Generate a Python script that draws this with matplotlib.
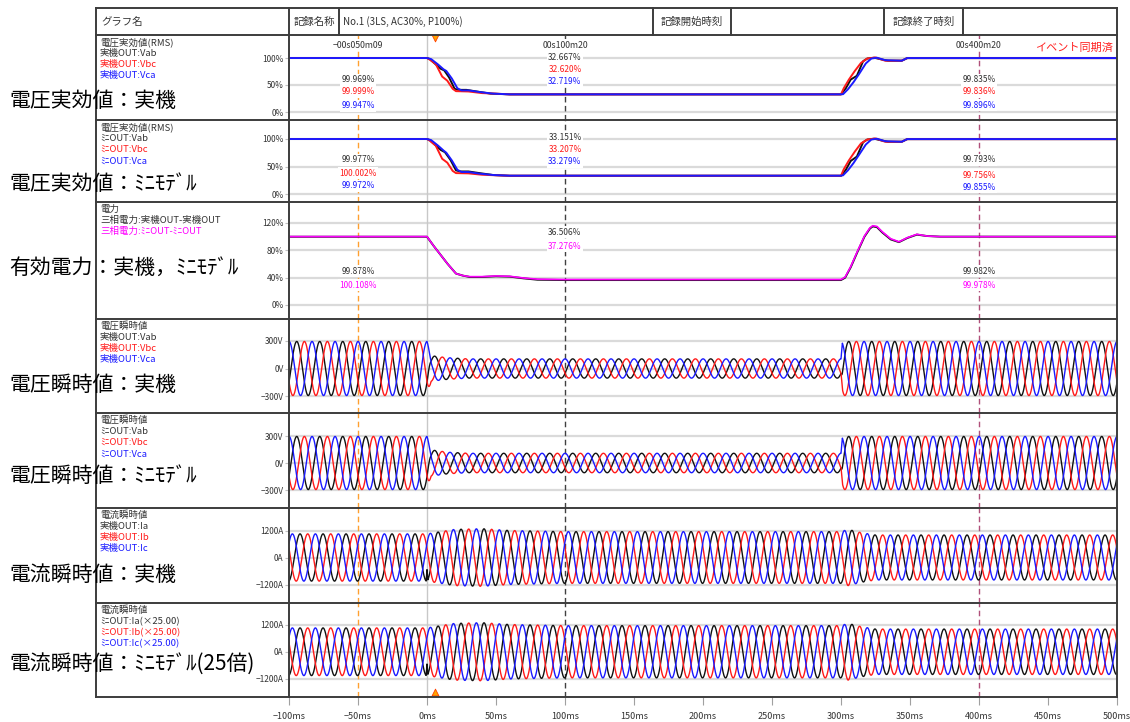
import numpy as np
import matplotlib
matplotlib.use("Agg")
import matplotlib.pyplot as plt
from matplotlib.lines import Line2D
from matplotlib.transforms import blended_transform_factory

plt.rcParams['font.family'] = ['Noto Sans CJK JP', 'DejaVu Sans']

# ---- data ---------------------------------------------------------------

# time window (ms) and grid frequency
t_start, t_end = -100, 500
freq = 60.0

# cursors
cursor_t = [-50, 100, 400]
cursor_names = ['\u221200s050m09', '00s100m20', '00s400m20']
event_t = 6

# voltage RMS, real machine (%)
rms_jk_ab_t = [-100, 0, 2, 6, 10, 12.5, 16, 20, 22.5, 28.5, 36, 46, 60, 300, 303.5, 307, 311.5, 316, 319, 324, 330, 334, 344, 348, 500]
rms_jk_ab = [99.969, 99.969, 98, 89, 80, 77, 64, 43, 41, 41, 38, 34, 32.667, 32.667, 44, 60, 67, 94, 99, 100.5, 97, 95, 95, 99.835, 99.835]
rms_jk_bc_t = [-100, 0, 2, 6.3, 11, 14.7, 18.6, 21, 30, 40, 50, 60, 300, 302, 305.7, 310, 314.5, 319, 325, 332, 344, 348, 500]
rms_jk_bc = [99.999, 99.999, 97, 89, 65.6, 58, 43, 38.6, 38, 35, 34, 32.620, 32.620, 44, 60, 76, 91, 99, 101, 95, 95, 99.836, 99.836]
rms_jk_ca_t = [-100, 0, 3, 8, 12, 14, 18, 22, 25, 30, 38, 48, 60, 300, 301.5, 305, 309, 313, 318, 322, 326, 332, 344, 348, 500]
rms_jk_ca = [99.947, 99.947, 98, 88, 79, 76, 62, 44, 40, 40, 37, 34, 32.719, 32.719, 33, 42, 55, 70, 90, 99, 100.5, 96, 95, 99.896, 99.896]

# voltage RMS, mini model (%)
rms_mn_ab_t = [-100, 0, 2, 6, 10, 13, 17, 21, 24, 30, 38, 48, 60, 300, 303.5, 307, 311.5, 316, 319, 324, 330, 334, 344, 348, 500]
rms_mn_ab = [99.977, 99.977, 98, 89, 80, 76, 62, 43, 41, 41, 38, 34.5, 33.151, 33.151, 44, 60, 68, 94, 99, 100.5, 97, 95, 95, 99.793, 99.793]
rms_mn_bc_t = [-100, 0, 2, 6.3, 11, 14.7, 18.6, 21, 30, 40, 50, 60, 300, 302, 305.7, 310, 314.5, 319, 325, 332, 344, 348, 500]
rms_mn_bc = [100.002, 100.002, 97, 88, 64, 57, 42, 38, 37.5, 35, 34, 33.207, 33.207, 45, 61, 77, 92, 99, 101, 95, 95, 99.756, 99.756]
rms_mn_ca_t = [-100, 0, 3, 8, 12, 14, 18, 22, 25, 30, 38, 48, 60, 300, 301.5, 305, 309, 313, 318, 322, 326, 332, 344, 348, 500]
rms_mn_ca = [99.972, 99.972, 98, 88, 79, 75, 61, 44, 40, 40, 37, 34.5, 33.279, 33.279, 34, 43, 56, 71, 90, 99, 100.5, 96, 95, 99.855, 99.855]

# three-phase active power (%)
pw_jk_t = [-100, 0, 5, 10, 15, 21, 26, 31, 40, 50, 60, 70, 80, 100, 300, 303, 307, 312, 317, 321, 323, 326, 330, 336, 342, 348, 355, 362, 372, 500]
pw_jk = [99.878, 99.878, 86, 73, 60, 46, 43, 41, 41, 42, 41.5, 39, 37, 36.506, 36.506, 40, 55, 78, 100, 112, 115, 114, 106, 96, 92, 98, 103, 101, 100, 99.982]
pw_mn_t = [-100, 0, 5, 10, 15, 21, 26, 31, 40, 50, 60, 70, 80, 100, 300, 303, 307, 312, 317, 321, 323, 326, 330, 336, 342, 348, 355, 362, 372, 500]
pw_mn = [100.108, 100.108, 86, 73, 60, 46, 43, 41.5, 41.5, 42.5, 42, 39.5, 37.8, 37.276, 37.276, 41, 56, 79, 101, 113, 116, 115, 107, 97, 92.5, 98.5, 103.5, 101, 100, 99.978]

# instantaneous voltage envelope (V peak) and Vab peak time (ms)
vi_jk_env_t = [-100, 0, 1, 3, 8, 15, 30, 300, 301, 500]
vi_jk_env = [295, 295, 250, 140, 130, 118, 105, 105, 295, 295]
vi_mn_env_t = [-100, 0, 1, 3, 8, 15, 30, 300, 301, 500]
vi_mn_env = [295, 295, 250, 145, 135, 120, 108, 108, 295, 295]
vi_peak_t = -94.4

# instantaneous current envelope (A peak) and Ia peak time (ms)
ii_jk_env_t = [-100, 0, 10, 20, 40, 60, 100, 300, 305, 315, 325, 500]
ii_jk_env = [1050, 1050, 1150, 1250, 1280, 1200, 1150, 1150, 1250, 1100, 1000, 1000]
ii_mn_env_t = [-100, 0, 10, 20, 40, 60, 100, 300, 305, 315, 325, 500]
ii_mn_env = [1050, 1050, 1150, 1250, 1280, 1200, 1150, 1150, 1250, 1100, 1000, 1000]
ii_peak_t = -92.0
# switching spike on Ia at the event
ia_spike_t = [-0.6, 0.0, 0.6]
ia_spike = [0, 500, 0]

# ---- layout (pixels) ----------------------------------------------------

W, H = 1130, 722
X_LEFT, X_AX, X_RIGHT = 96, 289, 1117
Y_HEAD = 8
panel_edges = [35, 120, 202, 319, 413, 508, 603, 697]

fig = plt.figure(figsize=(W / 100, H / 100), dpi=100)


def fx(x):
    return x / W


def fy(y):
    return 1 - y / H


def hline(y, x0, x1, **kw):
    fig.add_artist(Line2D([fx(x0), fx(x1)], [fy(y), fy(y)], transform=fig.transFigure, zorder=5, **kw))


def vline(x, y0, y1, **kw):
    fig.add_artist(Line2D([fx(x), fx(x)], [fy(y0), fy(y1)], transform=fig.transFigure, zorder=5, **kw))


cursor_colors = ['#ffa030', '#404040', '#b0507a']


def add_panel(i, grid_vals, grid_px, tick_labels):
    y0, y1 = panel_edges[i], panel_edges[i + 1]
    ax = fig.add_axes([fx(X_AX), fy(y1), (X_RIGHT - X_AX) / W, (y1 - y0) / H])
    # fit the y range so the grid sits on the given pixel rows
    v_hi, v_lo = grid_vals[0], grid_vals[-1]
    p_hi, p_lo = grid_px[0], grid_px[-1]
    k = (v_hi - v_lo) / (p_lo - p_hi)
    ax.set_ylim(v_lo - (y1 - p_lo) * k, v_hi + (p_hi - y0) * k)
    ax.set_xlim(t_start, t_end)
    for s in ax.spines.values():
        s.set_visible(False)
    ax.set_yticks(grid_vals, tick_labels)
    ax.tick_params(axis='y', length=3, color='#c0c0c0', labelsize=6, labelcolor='#333333', pad=1)
    ax.set_xticks([])
    for v in grid_vals:
        ax.axhline(v, color='#dadada', lw=1.6, zorder=0)
    ax.axvline(0, color='#c8c8c8', lw=1, zorder=1)
    for t, c in zip(cursor_t, cursor_colors):
        ax.axvline(t, color=c, lw=1, ls=(0, (4, 2.5)), zorder=1.5)
    return ax


pct = ['100%', '50%', '0%']
ax1 = add_panel(0, [100, 50, 0], [58, 85, 112], pct)
ax2 = add_panel(1, [100, 50, 0], [139, 166.5, 194], pct)
ax3 = add_panel(2, [120, 80, 40, 0], [223, 250.3, 277.7, 305], ['120%', '80%', '40%', '0%'])
ax4 = add_panel(3, [300, 0, -300], [341, 368.5, 396], ['300V', '0V', '\u2212300V'])
ax5 = add_panel(4, [300, 0, -300], [436, 463, 490], ['300V', '0V', '\u2212300V'])
ax6 = add_panel(5, [1200, 0, -1200], [530.5, 557.5, 584.5], ['1200A', '0A', '\u22121200A'])
ax7 = add_panel(6, [1200, 0, -1200], [624.5, 652, 679], ['1200A', '0A', '\u22121200A'])

BLK, RED, BLU, MAG = '#111111', '#ff1a1a', '#1a1aff', '#ff00ff'

# RMS traces
for ax, series in [(ax1, [(rms_jk_ab_t, rms_jk_ab), (rms_jk_bc_t, rms_jk_bc), (rms_jk_ca_t, rms_jk_ca)]),
                   (ax2, [(rms_mn_ab_t, rms_mn_ab), (rms_mn_bc_t, rms_mn_bc), (rms_mn_ca_t, rms_mn_ca)])]:
    for (tt, vv), c in zip(series, [BLK, RED, BLU]):
        ax.plot(tt, vv, color=c, lw=1.4, zorder=3)

# power
ax3.plot(pw_jk_t, pw_jk, color=BLK, lw=1.4, zorder=3)
ax3.plot(pw_mn_t, pw_mn, color=MAG, lw=1.2, zorder=3)

# instantaneous waveforms
t = np.arange(t_start, t_end + 0.05, 0.05)
omega = 2 * np.pi * freq / 1000.0


def three_phase(env_t, env_v, peak_t):
    amp = np.interp(t, env_t, env_v)
    return [amp * np.cos(omega * (t - peak_t) - k * 2 * np.pi / 3) for k in range(3)]


for ax, env_t, env_v, peak_t, spike in [(ax4, vi_jk_env_t, vi_jk_env, vi_peak_t, False),
                                         (ax5, vi_mn_env_t, vi_mn_env, vi_peak_t, False),
                                         (ax6, ii_jk_env_t, ii_jk_env, ii_peak_t, True),
                                         (ax7, ii_mn_env_t, ii_mn_env, ii_peak_t, True)]:
    waves = three_phase(env_t, env_v, peak_t)
    if spike:
        waves[0] = waves[0] + np.interp(t, ia_spike_t, ia_spike, left=0, right=0)
    for w, c in zip(waves, [BLK, RED, BLU]):
        ax.plot(t, w, color=c, lw=1.0, zorder=3)

# time axis on the bottom panel
xt = list(range(-100, 501, 50))
ax7.set_xticks(xt, [f'{v}ms'.replace('-', '\u2212') for v in xt])
ax7.tick_params(axis='x', length=6, color='#a0a0a0', labelsize=6.5, labelcolor='#333333', pad=5)

# cursor readouts
lbl_box = dict(boxstyle='square,pad=0.15', fc='white', ec='none')


def readout(ax, values, colors, ypx):
    tr = blended_transform_factory(ax.transData, fig.transFigure)
    for ci, t0 in enumerate(cursor_t):
        for vals, c, y in zip(values, colors, ypx[ci]):
            ax.text(t0, fy(y), f'{vals[ci]:.3f}%', transform=tr, ha='center', va='center',
                    fontsize=6, color=c, bbox=lbl_box, zorder=4)


readout(ax1, [[99.969, 32.667, 99.835], [99.999, 32.620, 99.836], [99.947, 32.719, 99.896]],
        ['#333333', RED, BLU], [[80, 92, 106], [57, 69, 81], [80, 92, 105]])
readout(ax2, [[99.977, 33.151, 99.793], [100.002, 33.207, 99.756], [99.972, 33.279, 99.855]],
        ['#333333', RED, BLU], [[160, 173, 186], [138, 150, 162], [160, 175, 187]])
readout(ax3, [[99.878, 36.506, 99.982], [100.108, 37.276, 99.978]],
        ['#333333', MAG], [[271, 285], [232, 246], [271, 285]])

tr1 = blended_transform_factory(ax1.transData, fig.transFigure)
for t0, name in zip(cursor_t, cursor_names):
    ax1.text(t0, fy(45), name, transform=tr1, ha='center', va='center', fontsize=6.3,
             color='#333333', bbox=lbl_box, zorder=4)
ax1.text(0.995, fy(48), 'イベント同期済', transform=blended_transform_factory(ax1.transAxes, fig.transFigure),
         ha='right', va='center', fontsize=8, color='#ff2020', zorder=4)

# event markers
ax1.scatter([event_t], [fy(38)], transform=tr1, marker='v', s=24, color='#ffa500',
            edgecolors='#ff4000', linewidths=0.6, zorder=6, clip_on=False)
tr7 = blended_transform_factory(ax7.transData, fig.transFigure)
ax7.scatter([event_t], [fy(692)], transform=tr7, marker='^', s=24, color='#ffa500',
            edgecolors='#ff4000', linewidths=0.6, zorder=6, clip_on=False)

# ---- table frame and header --------------------------------------------

frame = dict(color='#3c3c3c', lw=1.4)
hline(Y_HEAD, X_LEFT, X_RIGHT, **frame)
for y in panel_edges:
    hline(y, X_LEFT, X_RIGHT, **frame)
for x in [X_LEFT, X_AX, X_RIGHT]:
    vline(x, Y_HEAD, panel_edges[-1], **frame)
for x in [339, 653, 731, 884, 963]:
    vline(x, Y_HEAD, panel_edges[0], **frame)

head_y = fy(21.5)
fig.text(fx(101), head_y, 'グラフ名', fontsize=7.5, color='#333333', va='center')
fig.text(fx(314), head_y, '記録名称', fontsize=7.5, color='#333333', va='center', ha='center')
fig.text(fx(343), head_y, 'No.1 (3LS, AC30%, P100%)', fontsize=7, color='#333333', va='center')
fig.text(fx(692), head_y, '記録開始時刻', fontsize=7.5, color='#333333', va='center', ha='center')
fig.text(fx(923.5), head_y, '記録終了時刻', fontsize=7.5, color='#333333', va='center', ha='center')

# channel lists in the left column
channel_lists = [
    [('電圧実効値(RMS)', '#333333'), ('実機OUT:Vab', '#333333'), ('実機OUT:Vbc', RED), ('実機OUT:Vca', BLU)],
    [('電圧実効値(RMS)', '#333333'), ('ﾐﾆOUT:Vab', '#333333'), ('ﾐﾆOUT:Vbc', RED), ('ﾐﾆOUT:Vca', BLU)],
    [('電力', '#333333'), ('三相電力:実機OUT-実機OUT', '#333333'), ('三相電力:ﾐﾆOUT-ﾐﾆOUT', MAG)],
    [('電圧瞬時値', '#333333'), ('実機OUT:Vab', '#333333'), ('実機OUT:Vbc', RED), ('実機OUT:Vca', BLU)],
    [('電圧瞬時値', '#333333'), ('ﾐﾆOUT:Vab', '#333333'), ('ﾐﾆOUT:Vbc', RED), ('ﾐﾆOUT:Vca', BLU)],
    [('電流瞬時値', '#333333'), ('実機OUT:Ia', '#333333'), ('実機OUT:Ib', RED), ('実機OUT:Ic', BLU)],
    [('電流瞬時値', '#333333'), ('ﾐﾆOUT:Ia(×25.00)', '#333333'), ('ﾐﾆOUT:Ib(×25.00)', RED),
     ('ﾐﾆOUT:Ic(×25.00)', BLU)],
]
for i, rows in enumerate(channel_lists):
    for j, (txt, c) in enumerate(rows):
        fig.text(fx(100), fy(panel_edges[i] + 7 + 11.3 * j), txt, fontsize=6.8, color=c, va='center')

# large captions
captions = ['電圧実効値：実機', '電圧実効値：ﾐﾆﾓﾃﾞﾙ', '有効電力：実機，ﾐﾆﾓﾃﾞﾙ', '電圧瞬時値：実機',
            '電圧瞬時値：ﾐﾆﾓﾃﾞﾙ', '電流瞬時値：実機', '電流瞬時値：ﾐﾆﾓﾃﾞﾙ(25倍)']
caption_y = [101, 184, 268, 385, 476, 575, 664]
for txt, y in zip(captions, caption_y):
    fig.text(fx(9), fy(y), txt, fontsize=15, color='black', va='center', zorder=7)

fig.savefig('out.png', dpi=100)
